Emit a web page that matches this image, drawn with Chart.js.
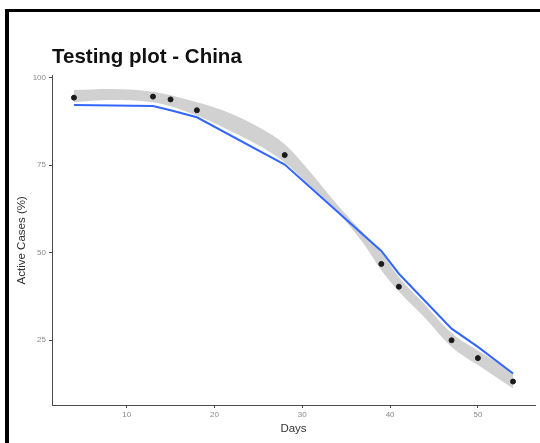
<!DOCTYPE html>
<html>
<head>
<meta charset="utf-8">
<script src="https://cdn.jsdelivr.net/npm/chart.js@4"></script>
<style>
  body { margin: 0; background: #fff; }
  #wrap { position: relative; width: 540px; height: 443px; overflow: hidden; }
  #frame { position: absolute; left: 5px; top: 9px; width: 600px; height: 500px;
           border-top: 3px solid #000; border-left: 4px solid #000; pointer-events: none; }
  canvas { position: absolute; left: 0; top: 0; }
</style>
</head>
<body>
<div id="wrap">
  <canvas id="chart" width="540" height="443"></canvas>
  <div id="frame"></div>
</div>
<script>
// observed points
const days = [4, 13, 15, 18, 28, 39, 41, 47, 50, 54];
const activeCases = [94.3, 94.6, 93.8, 90.7, 77.9, 46.8, 40.3, 25.0, 19.9, 13.2];

// blue fitted line
const fitted = [92.2, 91.9, 90.7, 88.7, 75.2, 50.5, 44.0, 28.3, 23.1, 15.5];

// grey smoothing band
const bandDays = [4, 8, 13, 18, 21, 25, 28, 31, 34, 37, 39, 41, 44, 47, 50, 54];
const bandUpper = [96.5, 96.8, 96.0, 93.0, 90.6, 85.9, 81.0, 72.8, 63.6, 55.5, 50.0, 43.1, 35.1, 27.1, 22.1, 15.8];
const bandLower = [93.0, 93.6, 93.0, 89.2, 85.8, 80.7, 75.8, 68.8, 61.6, 52.5, 45.0, 38.9, 31.3, 23.1, 17.9, 11.2];

const xTicks = [10, 20, 30, 40, 50];
const yTicks = [25, 50, 75, 100];

function toXY(xs, ys) {
  return xs.map(function(x, i) { return {x: x, y: ys[i]}; });
}

const axisGrey = '#4a4a4a';
const tickFont = {family: 'Liberation Sans, Arial, sans-serif', size: 8};
const labelFont = {family: 'Liberation Sans, Arial, sans-serif', size: 11.5};

const ctx = document.getElementById('chart').getContext('2d');
const chart = new Chart(ctx, {
  type: 'line',
  data: {
    datasets: [
      {
        label: 'points',
        type: 'scatter',
        data: toXY(days, activeCases),
        backgroundColor: '#1a1a1a',
        borderColor: '#1a1a1a',
        pointRadius: 2.5,
        showLine: false,
        order: 0
      },
      {
        label: 'fit',
        data: toXY(days, fitted),
        borderColor: '#3366ff',
        borderWidth: 2,
        pointRadius: 0,
        tension: 0,
        fill: false,
        order: 1
      },
      {
        label: 'lower',
        data: toXY(bandDays, bandLower),
        borderWidth: 0,
        borderColor: 'rgba(0,0,0,0)',
        pointRadius: 0,
        cubicInterpolationMode: 'monotone',
        fill: false,
        order: 3
      },
      {
        label: 'upper',
        data: toXY(bandDays, bandUpper),
        borderWidth: 0,
        borderColor: 'rgba(0,0,0,0)',
        backgroundColor: 'rgba(153,153,153,0.45)',
        pointRadius: 0,
        cubicInterpolationMode: 'monotone',
        fill: '-1',
        order: 2
      }
    ]
  },
  options: {
    responsive: false,
    animation: false,
    layout: { padding: {left: 0, right: 3, top: 0, bottom: 0} },
    plugins: {
      legend: { display: false },
      tooltip: { enabled: false },
      title: {
        display: true,
        text: 'Testing plot - China',
        align: 'start',
        fullSize: false,
        color: '#111',
        font: {family: 'Liberation Sans, Arial, sans-serif', size: 20.5, weight: 'bold'},
        padding: {top: 45, bottom: 6}
      }
    },
    scales: {
      x: {
        type: 'linear',
        min: 1.5,
        max: 56.5,
        afterBuildTicks: function(s) { s.ticks = xTicks.map(function(v) { return {value: v}; }); },
        afterFit: function(s) { s.height = 38; },
        ticks: { color: '#8a8a8a', font: tickFont, padding: 2, maxRotation: 0 },
        grid: { drawOnChartArea: false, drawTicks: true, tickLength: 3, color: axisGrey },
        border: { display: true, color: axisGrey, width: 1 },
        title: { display: true, text: 'Days', color: '#333', font: labelFont, padding: {top: 0, bottom: 7} }
      },
      y: {
        type: 'linear',
        min: 6.5,
        max: 100.6,
        afterBuildTicks: function(s) { s.ticks = yTicks.map(function(v) { return {value: v}; }); },
        afterFit: function(s) { s.width = 52; },
        ticks: { color: '#8a8a8a', font: tickFont, padding: 3 },
        grid: { drawOnChartArea: false, drawTicks: true, tickLength: 3, color: axisGrey },
        border: { display: true, color: axisGrey, width: 1 },
        title: { display: true, text: 'Active Cases (%)', color: '#333', font: labelFont, padding: {top: 15, bottom: 0} }
      }
    }
  }
});
</script>
</body>
</html>
